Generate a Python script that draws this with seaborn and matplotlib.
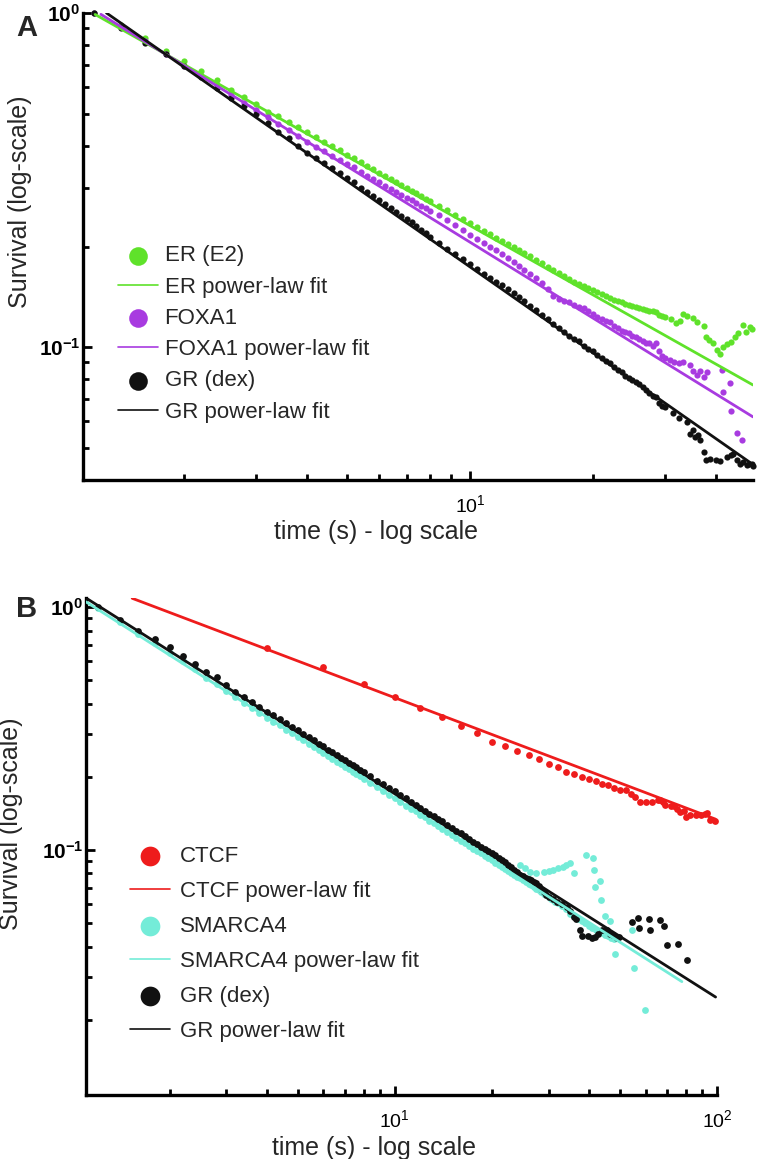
import numpy as np
import matplotlib
matplotlib.use("Agg")
import matplotlib.pyplot as plt
import seaborn as sns
from matplotlib.ticker import FixedLocator, LogLocator, NullFormatter, FuncFormatter

# ---------------- data ----------------
# panel A: shared time grid (s) for the dense part of the curves
t_grid_a = [1.2, 1.4, 1.6, 1.8, 2.0, 2.2, 2.4, 2.6, 2.8, 3.0,
            3.2, 3.4, 3.6, 3.8, 4.0, 4.2, 4.4, 4.6, 4.8, 5.0,
            5.2, 5.4, 5.6, 5.8, 6.0, 6.2, 6.4, 6.6, 6.8, 7.0,
            7.2, 7.4, 7.6, 7.8, 8.0,
            8.4, 8.8, 9.2, 9.6, 10.0, 10.4, 10.8, 11.2, 11.6, 12.0,
            12.4, 12.8, 13.2, 13.6, 14.0,
            14.5, 15.0, 15.5, 16.0, 16.5, 17.0, 17.5, 18.0, 18.5, 19.0,
            19.5, 20.0, 20.5, 21.0, 21.5, 22.0, 22.5, 23.0, 23.5, 24.0,
            24.5, 25.0, 25.5, 26.0, 26.5, 27.0, 27.5, 28.0, 28.5, 29.0,
            29.5, 30.0]

s_er = [1.0, .921, .840, .771, .718, .670, .630, .588, .562, .534,
        .506, .490, .472, .455, .440, .425, .412, .400, .388, .377,
        .367, .358, .349, .341, .333, .326, .319, .312, .306, .300,
        .294, .289, .283, .278, .274,
        .265, .257, .249, .242, .235, .229, .223, .218, .212, .208,
        .203, .199, .195, .191, .187,
        .182, .178, .174, .170, .167, .163, .160, .157, .154, .152,
        .150, .148, .146, .144, .142, .140, .138, .137, .136, .135,
        .134, .133, .132, .131, .130, .129, .1285, .128, .127, .125,
        .124, .123]
t_er_tail = [31.0, 32.0, 32.6, 33.3, 34.0, 35.2, 36.0, 37.3, 37.9, 38.5, 39.4,
             40.2, 40.9, 41.6, 42.5, 43.6, 44.5, 45.3, 46.6, 47.5, 48.5, 49.0]
s_er_tail = [.121, .118, .120, .126, .124, .122, .119, .116, .107, .105, .1025,
             .098, .0956, .100, .102, .1035, .107, .110, .1165, .111, .115, .113]

s_foxa1 = [1.0, .910, .822, .752, .695, .647, .606, .570, .539, .512,
           .487, .466, .446, .428, .412, .397, .385, .374, .363, .353,
           .345, .335, .326, .318, .311, .304, .298, .292, .286, .280,
           .275, .270, .265, .260, .256,
           .248, .240, .232, .224, .217, .211, .205, .200, .195, .190,
           .185, .180, .175, .170, .166,
           .161, .155, .149, .142, .139, .137, .136, .134, .132, .131,
           .128, .126, .123, .121, .120, .119, .116, .114, .112, .111,
           .110, .108, .107, .106, .104, .1025, .1025, .101, .1025, .097,
           .094, .0925]
t_foxa1_tail = [30.8, 31.6, 32.5, 33.3, 34.5, 35.2, 35.9, 36.6, 37.3, 38.0,
                41.3, 41.6, 43.3, 43.6, 45.0, 46.3]
s_foxa1_tail = [.0915, .090, .0895, .0905, .0885, .085, .0823, .0845, .0815, .084,
                .0853, .0735, .078, .0645, .0552, .0527]

s_gr_a = [1.0, .900, .812, .754, .695, .645, .595, .555, .527, .497,
          .467, .441, .423, .401, .380, .367, .355, .343, .331, .320,
          .311, .300, .291, .283, .276, .268, .261, .253, .247, .241,
          .236, .230, .224, .219, .214,
          .205, .197, .190, .183, .177, .171, .166, .161, .157, .153,
          .149, .145, .141, .137, .133,
          .129, .125, .121, .117, .114, .111, .108, .106, .104, .101,
          .099, .0975, .095, .093, .091, .0895, .087, .0855, .084, .082,
          .081, .0795, .0785, .0775, .076, .0745, .073, .0715, .071, .068,
          .0665, .066]
t_gr_a_tail = [31.4, 32.5, 33.9, 34.5, 35.2, 35.6, 36.2, 36.6, 37.3, 37.9, 38.6,
               40.1, 41.0, 42.5, 43.5, 44.1, 45.0, 45.8, 46.5, 47.6, 48.3, 48.9, 49.2]
s_gr_a_tail = [.0633, .0615, .0597, .0551, .0564, .0538, .0545, .0527, .0486, .0459, .0462,
               .0459, .0455, .0469, .0475, .048, .046, .0446, .0452, .0443, .0448, .0446, .0440]

# power-law fit end points, panel A
er_fit_t, er_fit_s = [1.21, 49.3], [0.99, 0.077]
foxa1_fit_t, foxa1_fit_s = [1.25, 49.3], [0.991, 0.0618]
gr_a_fit_t, gr_a_fit_s = [1.29, 49.3], [1.0, 0.0445]

# panel B
t_grid_b = t_grid_a

s_gr_b = [1.0, .880, .800, .736, .682, .629, .583, .542, .514, .478,
          .448, .428, .408, .389, .371, .360, .346, .333, .322, .311,
          .301, .291, .283, .274, .267, .259, .253, .246, .240, .234,
          .229, .224, .219, .214, .209,
          .201, .193, .186, .180, .174, .168, .163, .158, .153, .149,
          .145, .141, .1375, .134, .131,
          .127, .123, .120, .117, .114, .111, .108, .106, .103, .101,
          .099, .097, .0954, .093, .091, .089, .087, .085, .083, .081,
          .079, .078, .077, .076, .075, .074, .073, .071, .069, .067,
          .065, .064]
t_gr_b_tail = [31.0, 31.8, 33.0, 34.2, 35.0, 35.9, 36.5, 37.6, 38.0, 39.9, 40.8,
               41.8, 42.8, 44.0, 45.5, 46.5, 47.5, 48.8, 49.5, 54.3, 57.0, 57.4,
               61.3, 62.0, 66.3, 68.6, 69.8, 75.6, 80.6]
s_gr_b_tail = [.063, .0613, .060, .0584, .056, .0531, .052, .0469, .0441, .0441, .0434,
               .044, .0451, .047, .0469, .045, .0445, .0434, .044, .0507, .0524, .0479,
               .052, .0469, .0515, .0488, .0406, .041, .0353]

s_smarca4 = [.988, .870, .774, .709, .645, .601, .554, .509, .482, .451,
             .425, .404, .384, .365, .350, .337, .326, .313, .302, .292,
             .283, .274, .266, .258, .250, .244, .237, .231, .225, .220,
             .215, .210, .205, .201, .196,
             .189, .181, .175, .168, .163, .157, .152, .148, .144, .139,
             .136, .132, .129, .125, .122,
             .119, .115, .112, .109, .107, .104, .101, .099, .097, .0945,
             .0925, .0905, .0886, .0869, .0852, .0835, .0819, .0804, .079, .0776,
             .0763, .075, .0738, .0725, .0714, .0703, .0692, .0681, .0671, .0661,
             .0652, .0643]
t_smarca4_tail = [30.5, 31.0, 31.5, 32.0, 33.0, 34.0, 35.0, 36.0, 37.0, 38.0,
                  39.0, 40.0, 41.0, 42.0, 43.0, 44.0, 45.0, 46.0, 47.0, 48.0]
s_smarca4_tail = [.0630, .0622, .0612, .0604, .0590, .0570, .0545, .0535, .0522, .0510,
                  .0498, .0488, .0478, .0470, .0462, .0455, .0448, .0441, .0434, .0428]
t_smarca4_out = [24.4, 25.4, 26.3, 27.5, 29.0, 30.0, 31.0, 32.0, 33.3, 34.0, 35.0, 35.9,
                 39.3, 41.3, 41.5, 41.8, 43.4, 43.8, 44.9, 46.6, 48.2, 54.6, 55.3, 59.6]
s_smarca4_out = [.0868, .084, .0815, .0805, .0815, .082, .083, .0845, .0853, .087, .0886, .080,
                 .0954, .0925, .0825, .0707, .0744, .0623, .0533, .0508, .0372, .0466, .0328, .0220]

t_ctcf = [4, 6, 8, 10, 12, 14, 16, 18, 20, 22, 24, 26, 28, 30, 32, 34, 36, 38, 40,
          42, 44, 46, 48, 50, 52, 54, 55.5, 57.7, 60.4, 62.9, 65.5, 66.6, 67.8, 69.1,
          71.8, 73.4, 75.4, 77.0, 78.9, 80.4, 82.4, 86.0, 89.1, 91.7, 93.2, 95.3, 98.8]
s_ctcf = [.678, .566, .482, .426, .384, .353, .324, .303, .278, .268, .256, .246, .237,
          .226, .220, .210, .205, .200, .196, .192, .187, .185, .180, .177, .177, .170,
          .165, .158, .157, .157, .161, .160, .157, .153, .151, .152, .147, .143, .145,
          .137, .139, .139, .139, .141, .142, .133, .131]

ctcf_fit_t, ctcf_fit_s = [1.53, 98.8], [1.086, 0.134]
smarca4_fit_t, smarca4_fit_s = [1.1, 77.8], [1.05, 0.0287]
gr_b_fit_t, gr_b_fit_s = [1.1, 99.0], [1.089, 0.0248]

GREEN = '#5fe22a'
PURPLE = '#a83be0'
RED = '#ee1c1c'
CYAN = '#74ecd8'
BLACK = '#111111'

# ---------------- style ----------------
sns.set_style('ticks')
plt.rcParams['font.family'] = ['Liberation Sans', 'DejaVu Sans']
plt.rcParams['mathtext.fontset'] = 'custom'
plt.rcParams['mathtext.rm'] = 'Liberation Sans'
plt.rcParams['mathtext.bf'] = 'Liberation Sans:bold'
plt.rcParams['mathtext.it'] = 'Liberation Sans:italic'

fig = plt.figure(figsize=(7.59, 11.59), dpi=100)
ax_a = fig.add_axes([0.10935, 0.58585, 0.88274, 0.40293])
ax_b = fig.add_axes([0.11331, 0.05522, 0.83136, 0.42882])


def ylab(v, pos):
    return r'$\mathbf{10^{%d}}$' % int(round(np.log10(v)))


def xlab(v, pos):
    return r'$\mathregular{10^{%d}}$' % int(round(np.log10(v)))


def style_axes(ax, xlim, ylim, xmaj):
    ax.set_xscale('log')
    ax.set_yscale('log')
    ax.set_xlim(*xlim)
    ax.set_ylim(*ylim)
    ax.xaxis.set_major_locator(FixedLocator(xmaj))
    ax.yaxis.set_major_locator(FixedLocator([0.1, 1.0]))
    ax.xaxis.set_minor_locator(LogLocator(base=10, subs=[2, 3, 4, 5, 6, 7, 8, 9], numticks=20))
    ax.yaxis.set_minor_locator(LogLocator(base=10, subs=[2, 3, 4, 5, 6, 7, 8, 9], numticks=20))
    ax.xaxis.set_major_formatter(FuncFormatter(xlab))
    ax.yaxis.set_major_formatter(FuncFormatter(ylab))
    ax.xaxis.set_minor_formatter(NullFormatter())
    ax.yaxis.set_minor_formatter(NullFormatter())
    for side in ['top', 'right']:
        ax.spines[side].set_visible(False)
    for side in ['left', 'bottom']:
        ax.spines[side].set_linewidth(2.4)
        ax.spines[side].set_color('black')
    ax.tick_params(which='both', direction='in', colors='black', width=2.0,
                   top=False, right=False)
    ax.tick_params(which='major', length=6.5)
    ax.tick_params(which='minor', length=4.5)
    ax.tick_params(axis='x', which='major', labelsize=14, pad=10)
    ax.tick_params(axis='y', which='major', labelsize=15, pad=2)
    ax.set_xlabel('time (s) - log scale', fontsize=18)
    ax.set_ylabel('Survival (log-scale)', fontsize=18)
    ax.grid(False)


def add_series(ax, t, s, color, label, size):
    sns.scatterplot(x=t, y=s, color=color, s=size, linewidth=0, label=label,
                    ax=ax, clip_on=False, zorder=2, legend=False)


def add_fit(ax, t, s, color, label):
    sns.lineplot(x=t, y=s, color=color, linewidth=2.0, label=label, ax=ax,
                 zorder=3, legend=False)


# ---------------- panel A ----------------
add_series(ax_a, t_grid_a + t_er_tail, s_er + s_er_tail, GREEN, 'ER (E2)', 20)
add_fit(ax_a, er_fit_t, er_fit_s, GREEN, 'ER power-law fit')
add_series(ax_a, t_grid_a + t_foxa1_tail, s_foxa1 + s_foxa1_tail, PURPLE, 'FOXA1', 20)
add_fit(ax_a, foxa1_fit_t, foxa1_fit_s, PURPLE, 'FOXA1 power-law fit')
add_series(ax_a, t_grid_a + t_gr_a_tail, s_gr_a + s_gr_a_tail, BLACK, 'GR (dex)', 20)
add_fit(ax_a, gr_a_fit_t, gr_a_fit_s, BLACK, 'GR power-law fit')
style_axes(ax_a, (1.13, 49.3), (0.04, 1.0), [10])

# ---------------- panel B ----------------
add_series(ax_b, t_ctcf, s_ctcf, RED, 'CTCF', 24)
add_fit(ax_b, ctcf_fit_t, ctcf_fit_s, RED, 'CTCF power-law fit')
add_series(ax_b, t_grid_b + t_smarca4_tail + t_smarca4_out,
           s_smarca4 + s_smarca4_tail + s_smarca4_out, CYAN, 'SMARCA4', 24)
add_fit(ax_b, smarca4_fit_t, smarca4_fit_s, CYAN, 'SMARCA4 power-law fit')
add_series(ax_b, t_grid_b + t_gr_b_tail, s_gr_b + s_gr_b_tail, BLACK, 'GR (dex)', 24)
add_fit(ax_b, gr_b_fit_t, gr_b_fit_s, BLACK, 'GR power-law fit')
style_axes(ax_b, (1.1, 100), (0.0098, 1.089), [10, 100])


def make_legend(ax, anchor, spacing, textpad, scale):
    handles, labels = ax.get_legend_handles_labels()
    leg = ax.legend(handles, labels, loc='center left', bbox_to_anchor=anchor,
                    frameon=False, fontsize=16, markerscale=scale,
                    handlelength=1.8, handletextpad=textpad, labelspacing=spacing,
                    borderpad=0, borderaxespad=0)
    for ln in leg.get_lines():
        ln.set_linewidth(1.2)
    return leg


make_legend(ax_a, (0.052, 0.3126), 0.46, 0.3, 3.0)
make_legend(ax_b, (0.0697, 0.3048), 0.63, 0.45, 2.9)

ax_a.yaxis.set_label_coords(-0.076, 0.595)
ax_a.xaxis.set_label_coords(0.438, -0.086)
ax_b.yaxis.set_label_coords(-0.100, 0.546)
ax_b.xaxis.set_label_coords(0.457, -0.083)

fig.text(27 / 759, 1 - 28 / 1159, 'A', fontsize=21, fontweight='bold',
         ha='center', va='center')
fig.text(27 / 759, 1 - 609 / 1159, 'B', fontsize=21, fontweight='bold',
         ha='center', va='center')

fig.savefig('out.png', dpi=100)
